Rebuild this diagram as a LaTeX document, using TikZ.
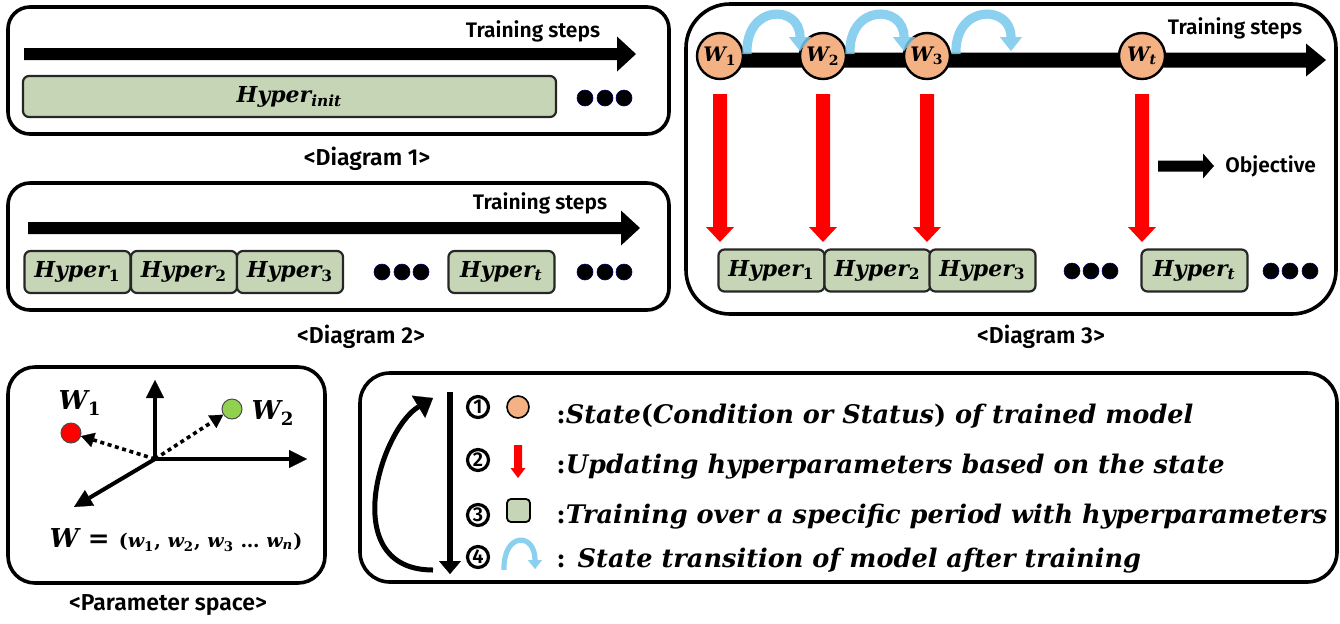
\documentclass[tikz,border=0pt]{standalone}
\usepackage{fontspec}
\setmainfont{Fira Sans}[BoldFont={Fira Sans SemiBold}]
\newfontfamily\serifmath{DejaVu Serif}
\usetikzlibrary{arrows.meta,calc}

\definecolor{stateorange}{RGB}{244,177,131}
\definecolor{hypgreen}{RGB}{197,213,181}
\definecolor{arcblue}{RGB}{120,200,236}
\definecolor{ptgreen}{RGB}{146,208,80}

% bold italic "math" lettering
\newcommand\mi{\serifmath\bfseries\itshape}
\newcommand\up[1]{{\upshape #1}}
\newcommand\sub[1]{\textsubscript{#1}}

% filled block arrow: [style]{start}{end}{shaft half width}{head half width}{head length}
\newcommand\blockarrow[6][black]{%
  \coordinate (ba-h) at ($(#3)!#6!(#2)$);
  \fill[#1] ($(#2)!#4!90:(#3)$) -- ($(ba-h)!#4!90:(#3)$) -- ($(ba-h)!#5!90:(#3)$) -- (#3)
    -- ($(ba-h)!#5!-90:(#3)$) -- ($(ba-h)!#4!-90:(#3)$) -- ($(#2)!#4!-90:(#3)$) -- cycle;}

\begin{document}
\begin{tikzpicture}[x=0.5pt,y=-0.5pt,
  panel/.style={draw, line width=1.8pt, rounded corners=#1},
  panel/.default=11pt,
  hyp/.style={draw=black!85, line width=1.1pt, fill=hypgreen, rounded corners=3pt,
    minimum width=53pt, minimum height=21pt, inner sep=0pt,
    font=\fontsize{11}{13}\selectfont\mi},
  state/.style={circle, draw, line width=1.2pt, fill=stateorange, minimum size=23pt,
    inner sep=0pt, font=\fontsize{10}{12}\selectfont\mi},
  bigdot/.style={circle, fill=black, draw=black!60!blue, line width=0.3pt,
    minimum size=8pt, inner sep=0pt},
  steps/.style={font=\fontsize{10.5}{12}\selectfont\bfseries, inner sep=0pt},
  caption/.style={font=\fontsize{11.5}{13}\selectfont\bfseries, inner sep=0pt},
  legtext/.style={anchor=base west, inner sep=0pt, font=\fontsize{12.8}{15}\selectfont\mi},
  num/.style={circle, draw, line width=1.6pt, minimum size=10.5pt, inner sep=0pt,
    font=\fontsize{10}{10}\selectfont\bfseries},
  transit/.style={arcblue, line width=4.6pt, opacity=0.85,
    -{Triangle[length=7pt,width=11pt,line width=0.1pt]}},
  axis/.style={line width=2pt, -{Triangle[length=9pt,width=9pt,line width=0.1pt]}},
  dotarrow/.style={line width=1.8pt, dash pattern=on 2pt off 1.8pt,
    -{Triangle[length=6.5pt,width=7.5pt,line width=0.1pt]}},
  ptdot/.style={circle, draw=black!70, line width=0.5pt, minimum size=10pt, inner sep=0pt}
]
\useasboundingbox (0,0) rectangle (1340,623);

% ---------------- Diagram 1 ----------------
\draw[panel] (8,7) rectangle (669,134);
\coordinate (d1a) at (24,54);
\coordinate (d1b) at (636,54);
\blockarrow{d1a}{d1b}{3pt}{8.75pt}{9.5pt}
\node[steps] (d1steps) at (533,31) {Training steps};
\node[hyp, minimum width=266.5pt, minimum height=20.5pt] (hinit) at (289.5,96.5)
  {Hyper\sub{init}};
\node[bigdot] (d1x1) at (585,98) {};
\node[bigdot] (d1x2) at (605,98) {};
\node[bigdot] (d1x3) at (624,98) {};
\node[caption] (cap1) at (367,159) {<Diagram 1>};

% ---------------- Diagram 2 ----------------
\draw[panel] (8,183) rectangle (669,310);
\coordinate (d2a) at (28,228);
\coordinate (d2b) at (640,228);
\blockarrow{d2a}{d2b}{3pt}{8.75pt}{9.5pt}
\node[steps] (d2steps) at (540,203) {Training steps};
\node[hyp] (h21) at (77.5,272) {Hyper\sub{\up{1}}};
\node[hyp] (h22) at (184,272) {Hyper\sub{\up{2}}};
\node[hyp] (h23) at (290,272) {Hyper\sub{\up{3}}};
\node[bigdot] (d2x1) at (382,272) {};
\node[bigdot] (d2x2) at (402,272) {};
\node[bigdot] (d2x3) at (421,272) {};
\node[hyp] (h2t) at (501.5,272) {Hyper\sub{t}};
\node[bigdot] (d2y1) at (585,272) {};
\node[bigdot] (d2y2) at (605,272) {};
\node[bigdot] (d2y3) at (624,272) {};
\node[caption] (cap2) at (361,337) {<Diagram 2>};

% ---------------- Diagram 3 ----------------
\draw[panel=22pt] (686,4) rectangle (1336,314);
\coordinate (d3a) at (705,60);
\coordinate (d3b) at (1326,60);
\blockarrow{d3a}{d3b}{3.75pt}{8.25pt}{10pt}
\node[steps] (d3steps) at (1235,28) {Training steps};
\node[state] (w1) at (720,56) {W\sub{\up{1}}};
\node[state] (w2) at (823,56) {W\sub{\up{2}}};
\node[state] (w3) at (927,56) {W\sub{\up{3}}};
\node[state] (wt) at (1142,56) {W\sub{t}};
% state transitions after training
\draw[transit] ($(w1)+(27,-2)$) .. controls ($(w1)+(25,-52)$) and ($(w2)+(-23,-52)$) .. ($(w2)+(-23,-5)$);
\draw[transit] ($(w2)+(27,-2)$) .. controls ($(w2)+(25,-52)$) and ($(w3)+(-23,-52)$) .. ($(w3)+(-23,-5)$);
\coordinate (w3next) at ($(w3)+(84,-5)$);
\draw[transit] ($(w3)+(29,-2)$) .. controls ($(w3)+(27,-52)$) and ($(w3next)+(0,-47)$) .. (w3next);
% hyperparameter blocks
\node[hyp] (h31) at (771.5,270.5) {Hyper\sub{\up{1}}};
\node[hyp] (h32) at (877.5,270.5) {Hyper\sub{\up{2}}};
\node[hyp] (h33) at (982.5,270.5) {Hyper\sub{\up{3}}};
\node[bigdot] (d3x1) at (1072,271) {};
\node[bigdot] (d3x2) at (1091,271) {};
\node[bigdot] (d3x3) at (1110,271) {};
\node[hyp] (h3t) at (1194.5,270.5) {Hyper\sub{t}};
\node[bigdot] (d3y1) at (1271,271) {};
\node[bigdot] (d3y2) at (1290,271) {};
\node[bigdot] (d3y3) at (1310,271) {};
% hyperparameter updates
\coordinate (r1s) at ($(w1.south)+(0,14)$);
\coordinate (r1e) at (w1 |- 0,242);
\blockarrow[red]{r1s}{r1e}{3.5pt}{7pt}{7.5pt}
\coordinate (r2s) at ($(w2.south)+(0,14)$);
\coordinate (r2e) at (w2 |- 0,242);
\blockarrow[red]{r2s}{r2e}{3.5pt}{7pt}{7.5pt}
\coordinate (r3s) at ($(w3.south)+(0,14)$);
\coordinate (r3e) at (w3 |- 0,242);
\blockarrow[red]{r3s}{r3e}{3.5pt}{7pt}{7.5pt}
\coordinate (rts) at ($(wt.south)+(0,14)$);
\coordinate (rte) at (wt |- 0,242);
\blockarrow[red]{rts}{rte}{3.5pt}{7pt}{7.5pt}
% objective
\node[steps, anchor=west] (obj) at (1225,166) {Objective};
\coordinate (oa) at (1158,166);
\coordinate (ob) at ($(obj.west)+(-11,0)$);
\blockarrow{oa}{ob}{2.75pt}{6.25pt}{5.5pt}
\node[caption] (cap3) at (1041,337) {<Diagram 3>};

% ---------------- Parameter space ----------------
\draw[panel=13.5pt] (8,367) rectangle (325,583);
\coordinate (o) at (155,459);
\coordinate (ax1) at (155,380);
\coordinate (ax2) at (307,459);
\coordinate (ax3) at (74,507);
\draw[axis] (o) -- (ax1);
\draw[axis] (o) -- (ax2);
\draw[axis] (o) -- (ax3);
\node[ptdot, fill=red] (p1) at (71,433) {};
\node[ptdot, fill=ptgreen] (p2) at (232,409) {};
\draw[dotarrow] (o) -- (p1);
\draw[dotarrow] (o) -- (p2);
\node[font=\fontsize{13}{15}\selectfont\mi] (lw1) at (80,403) {W\sub{\up{1}}};
\node[font=\fontsize{13}{15}\selectfont\mi] (lw2) at (273,413) {W\sub{\up{2}}};
\node[font=\fontsize{13}{15}\selectfont\mi] (wvec) at (176,540)
  {W \up{=} {\fontsize{9.5}{11}\selectfont\up{(}w\sub{\up{1}}\up{,} w\sub{\up{2}}\up{,} w\sub{\up{3}} \up{…} w\sub{n}\up{)}}};
\node[caption] (cap4) at (168,605) {<Parameter space>};

% ---------------- Legend ----------------
\draw[panel=15pt] (360,373) rectangle (1337,582);
\coordinate (vt) at (450,392);
\coordinate (vb) at (450,574);
\draw[line width=2.6pt, -{Triangle[length=6.5pt,width=11pt,line width=0.1pt]}] (vt) -- (vb);
\coordinate (cb) at (433,570);
\coordinate (ct) at (433,398);
\draw[line width=2.5pt, -{Triangle[length=8.5pt,width=13pt,line width=0.1pt]}]
  (cb) .. controls (337,570) and (380,430) .. (ct);
\node[num] (n1) at (478,407) {1};
\node[num] (n2) at (478,460) {2};
\node[num] (n3) at (478,515) {3};
\node[num] (n4) at (478,557) {4};
\node[circle, draw, line width=0.8pt, fill=stateorange, minimum size=11pt, inner sep=0pt] (ic1) at (518,407) {};
\coordinate (ic2a) at (518,445);
\coordinate (ic2b) at (518,478);
\blockarrow[red]{ic2a}{ic2b}{2pt}{3.75pt}{5pt}
\node[draw, line width=0.9pt, fill=hypgreen, rounded corners=2pt, minimum size=11.5pt, inner sep=0pt] (ic3) at (518.5,510.5) {};
\coordinate (ic4a) at (504,570);
\coordinate (ic4b) at (535,569);
\draw[arcblue, line width=2.6pt, opacity=0.85, -{Triangle[length=4.5pt,width=7pt,line width=0.1pt]}]
  (ic4a) .. controls (503,532) and (535,532) .. (ic4b);
\node[legtext] (t1) at (556,423) {\up{:}State\up{(}Condition or Status\up{)} of trained model};
\node[legtext] (t2) at (556,473) {\up{:}Updating hyperparameters based on the state};
\node[legtext] (t3) at (556,523) {\up{:}Training over a specific period with hyperparameters};
\node[legtext] (t4) at (556,567) {\up{:} State transition of model after training};
\end{tikzpicture}
\end{document}
